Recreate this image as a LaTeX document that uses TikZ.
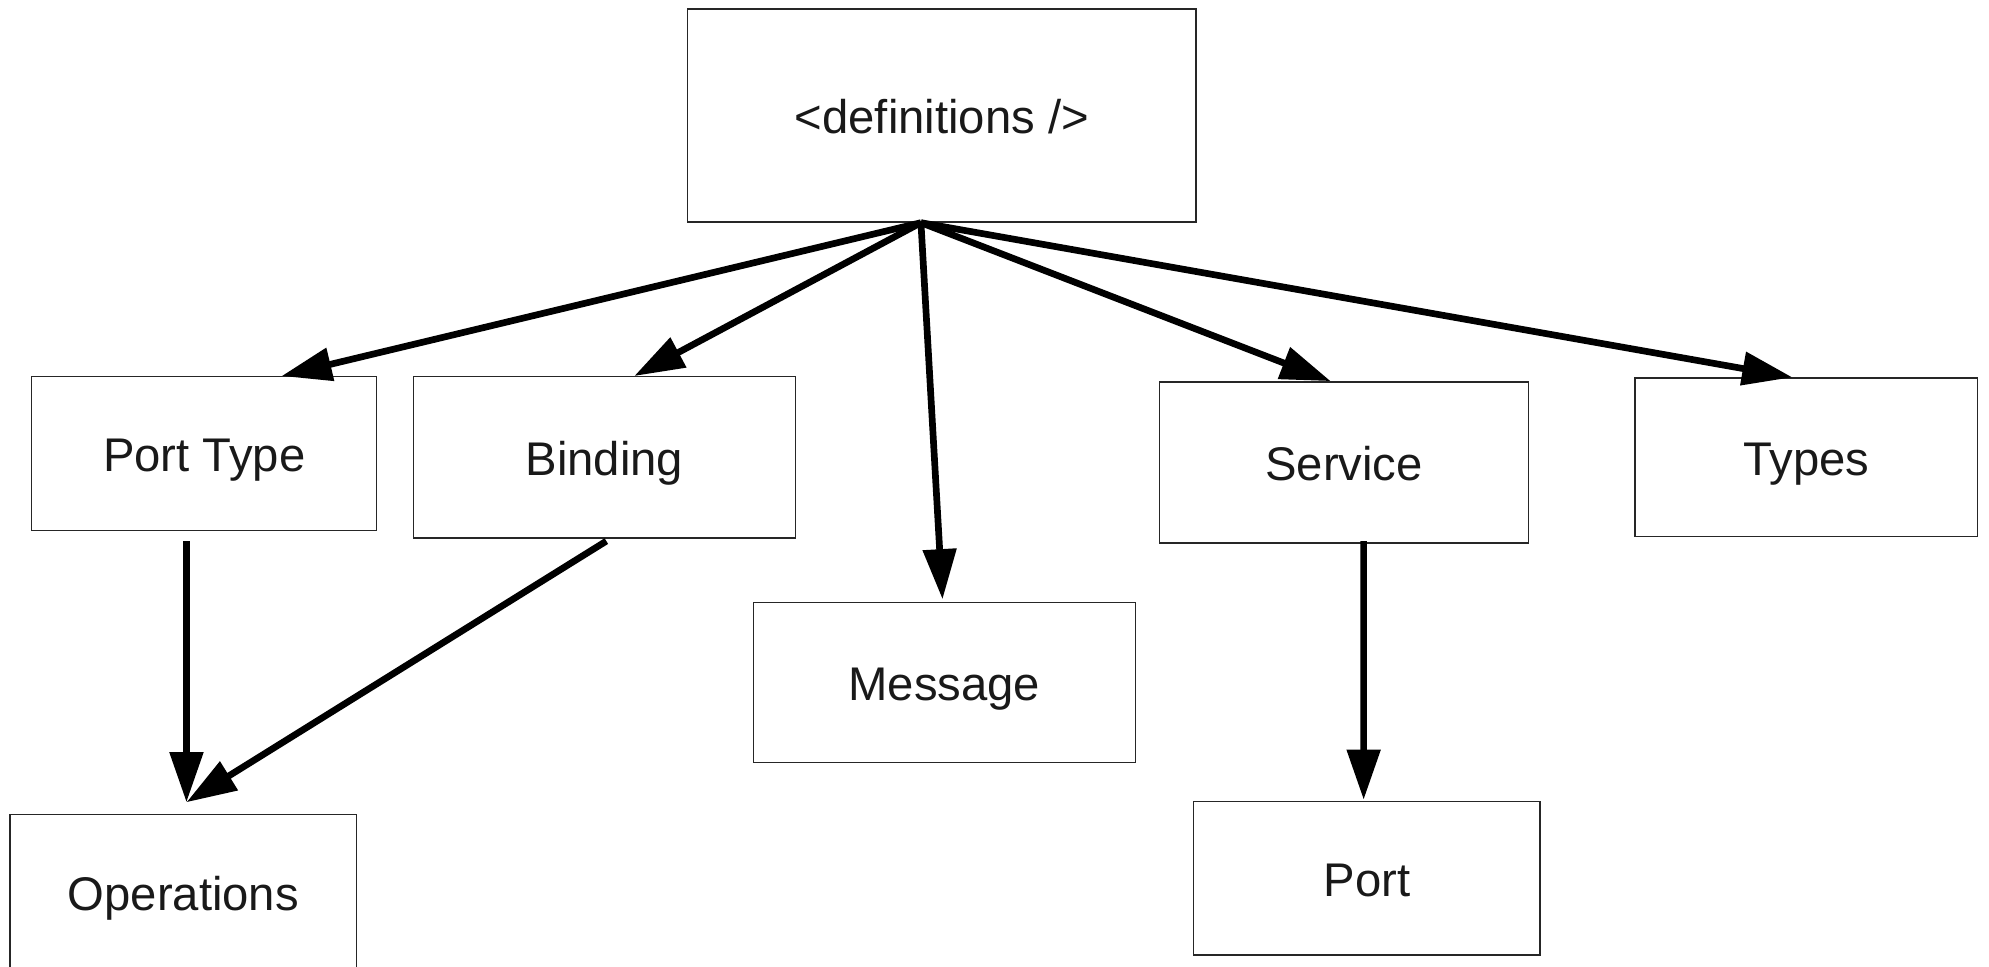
\documentclass[tikz,border=0pt]{standalone}
\usepackage{fontspec}
\setmainfont{Liberation Sans}
\usetikzlibrary{arrows.meta}
\tikzset{
  box/.style={draw=black!85, line width=0.65pt, rectangle, inner sep=0pt, text height=19.5pt, text depth=3.5pt, font=\fontsize{21.2}{25}\selectfont, text=black!90},
  conn/.style={line width=3pt, -{Triangle[length=22.5pt, width=14.6pt]}}
}
\begin{document}
\begin{tikzpicture}[x=0.02cm, y=-0.02cm]
\useasboundingbox (0,0) rectangle (1568,762.3);
\clip (0,0) rectangle (1568,762.3);
\node[box, minimum width=8.02cm, minimum height=3.36cm] (def) at (742.5,91) {<definitions />};
\node[box, minimum width=5.44cm, minimum height=2.42cm] (pt) at (161,357.5) {Port Type};
\node[box, minimum width=6.02cm, minimum height=2.54cm] (bind) at (476.5,360.5) {Binding};
\node[box, minimum width=6.02cm, minimum height=2.52cm] (msg) at (744.5,538) {Message};
\node[box, minimum width=5.82cm, minimum height=2.54cm] (svc) at (1059.5,364.5) {Service};
\node[box, minimum width=5.40cm, minimum height=2.50cm] (types) at (1424,360.5) {Types};
\node[box, minimum width=5.46cm, minimum height=2.46cm] (ops) at (144.5,703.5) {Operations};
\node[box, minimum width=5.46cm, minimum height=2.42cm] (port) at (1077.5,692.5) {Port};
\coordinate (hub) at ([xshift=-0.33cm]def.south);
\coordinate (opsin) at ([xshift=0.05cm, yshift=0.18cm]ops.north);
\draw[conn] (hub) -- ([xshift=1.22cm]pt.north);
\draw[conn] (hub) -- ([xshift=0.47cm]bind.north);
\draw[conn] (hub) -- ([xshift=-0.03cm, yshift=0.04cm]msg.north);
\draw[conn] (hub) -- ([xshift=-0.21cm]svc.north);
\draw[conn] (hub) -- ([xshift=-0.22cm]types.north);
\draw[conn] ([xshift=-0.28cm, yshift=-0.16cm]pt.south) -- (opsin);
\draw[conn] ([xshift=0.03cm, yshift=-0.04cm]bind.south) -- (opsin);
\draw[conn] ([xshift=0.31cm, yshift=0.04cm]svc.south) -- ([xshift=-0.05cm, yshift=0.02cm]port.north);
\end{tikzpicture}
\end{document}
